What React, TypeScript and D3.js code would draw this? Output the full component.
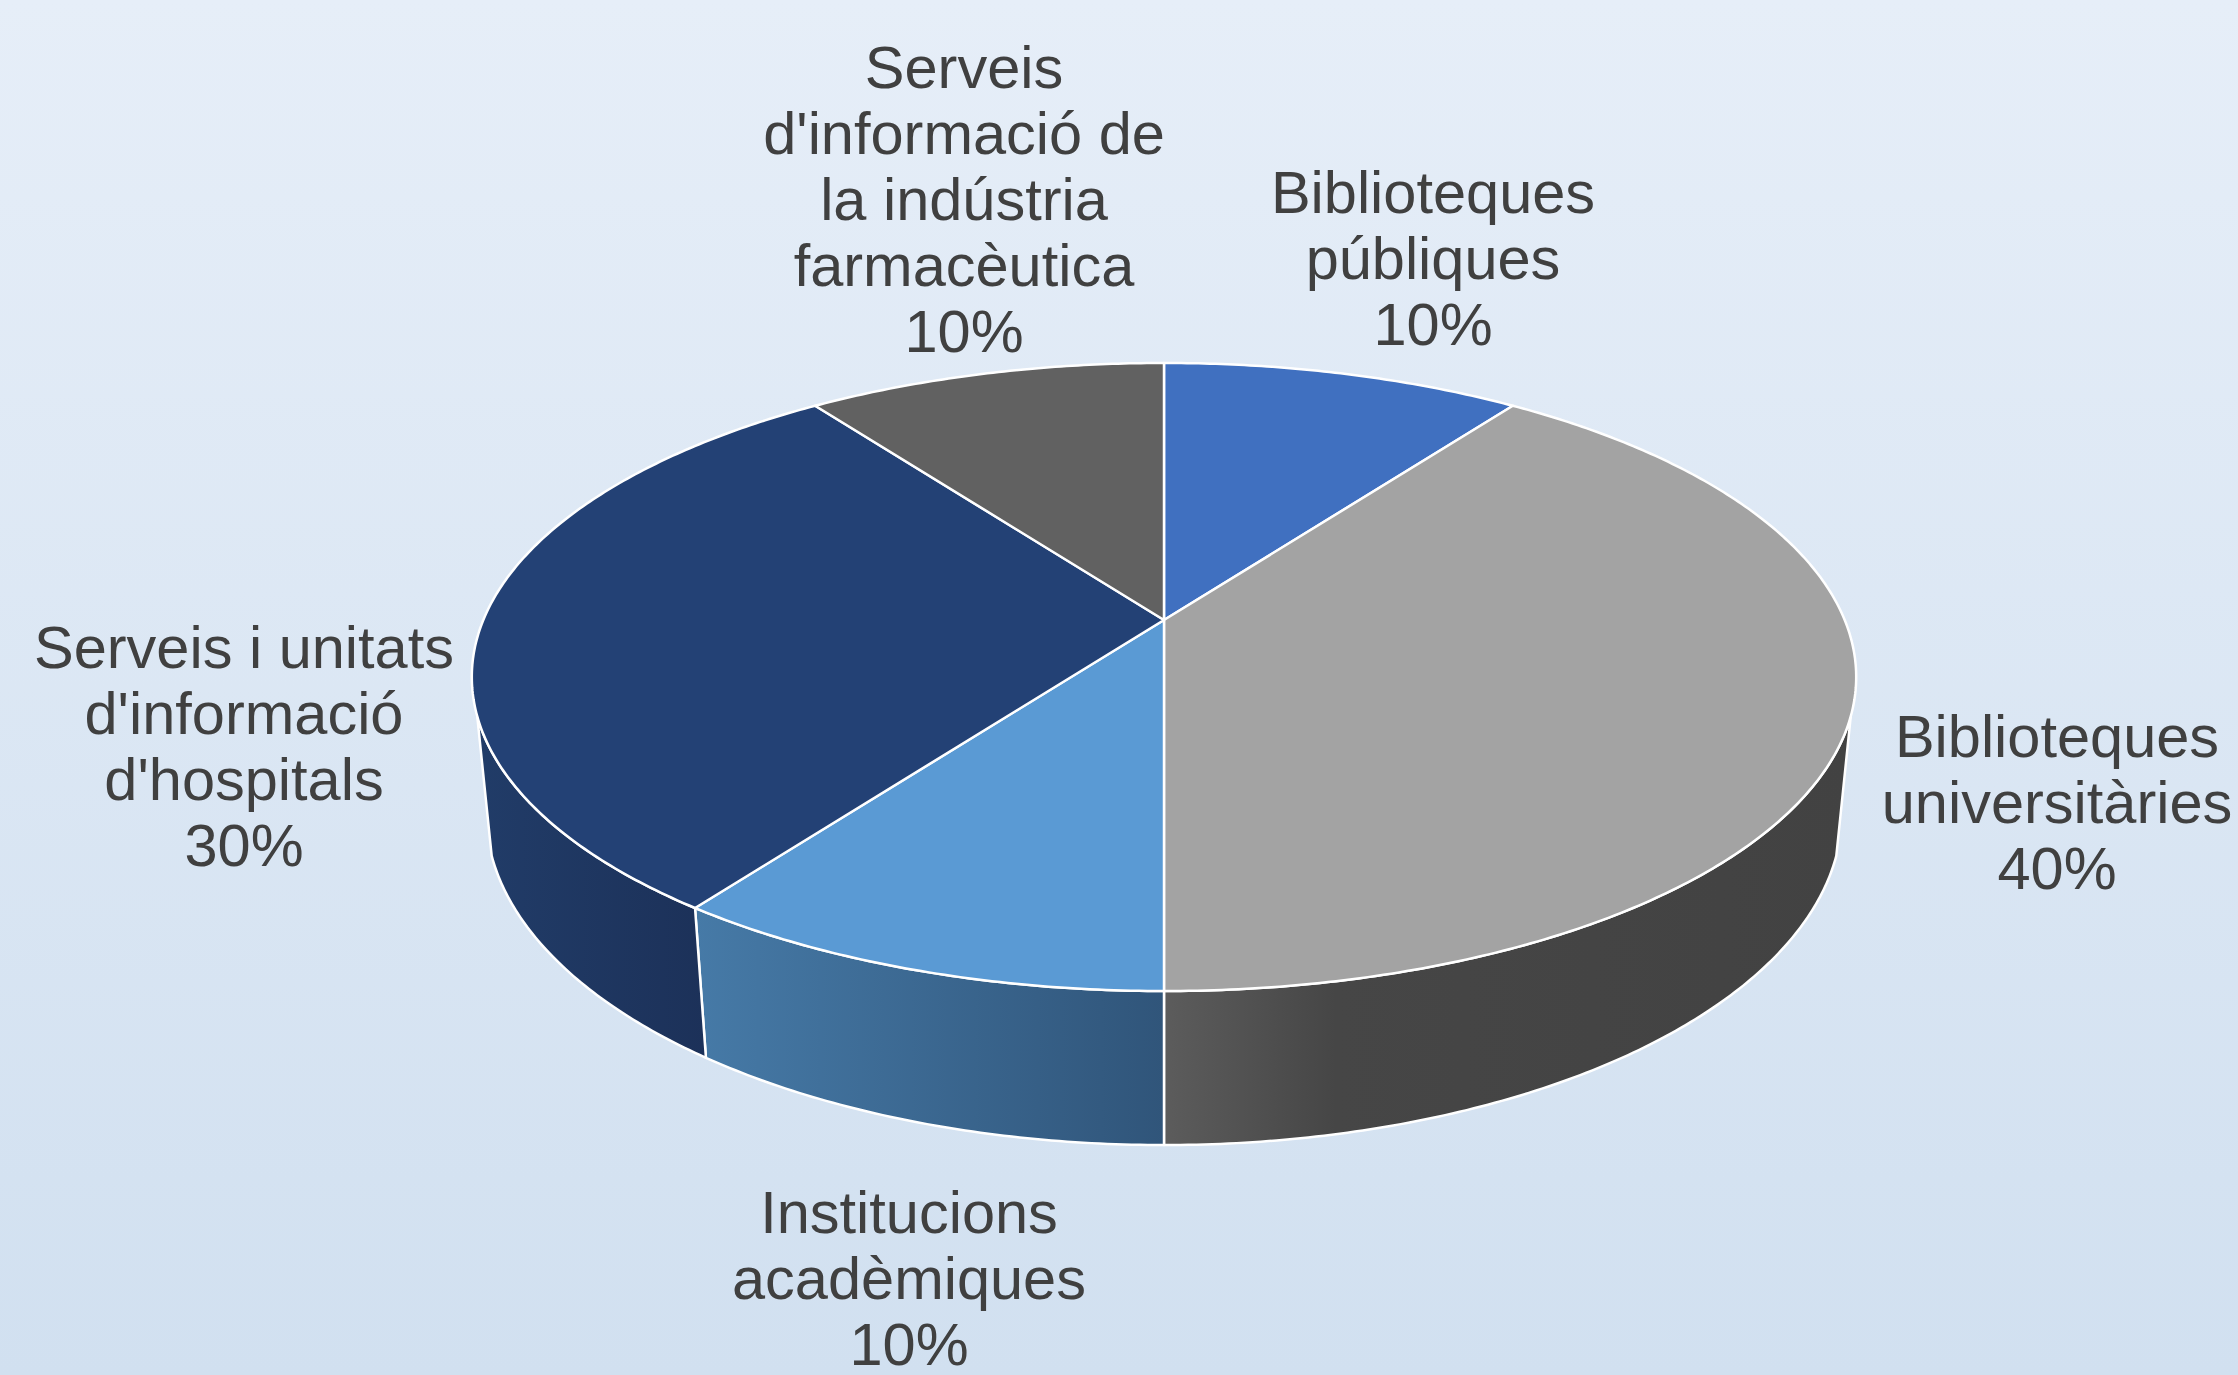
import * as React from 'react';
import * as d3 from 'd3';

// chart data
const categories: string[] = [
  'Biblioteques\npúbliques',
  'Biblioteques\nuniversitàries',
  'Institucions\nacadèmiques',
  "Serveis i unitats\nd'informació\nd'hospitals",
  "Serveis\nd'informació de\nla indústria\nfarmacèutica",
];
const values: number[] = [10, 40, 10, 30, 10];

// colours: top face, wall gradient (left -> right)
const topColors = ['#4070c0', '#a3a3a3', '#5a9ad4', '#234175', '#616161'];
const wallColors: string[][] = [
  ['#2f5597', '#2a4c87'],
  ['#5c5c5c', '#464646', '#424242'],
  ['#467aa7', '#30557a'],
  ['#213c68', '#1c3159'],
  ['#4a4a4a', '#3c3c3c'],
];

// where Excel put each data label (centre x, first baseline)
const labelPos: [number, number][] = [
  [1433, 213],
  [2057, 757],
  [909, 1233],
  [244, 668],
  [964, 88],
];

const W = 2238, H = 1375;
const CX = 1164, CY = 620;
const RX = 680.7, RY = 303.7;
const PERSP = 0.1815;
const THICK = 0.2244;
const WALL_V = 0.3;
const LINE_H = 66;

const sinA = RY / RX;
const cosA = Math.sqrt(1 - sinA * sinA);
const L = cosA / PERSP;
const F = RX * L;

function project(theta: number, h: number): [number, number] {
  const u = Math.sin(theta);
  const v = -Math.cos(theta);
  const depth = L * (1 - PERSP * v) + h * sinA;
  return [CX + (F * u) / depth, CY + (F * (v * sinA + h * cosA)) / depth];
}

function arcPts(s: number, e: number, h: number): [number, number][] {
  const n = Math.max(2, Math.ceil((e - s) / 0.01));
  return d3.range(n + 1).map((i) => project(s + ((e - s) * i) / n, h));
}

const line = d3.line<[number, number]>();
const pct = d3.format('.0%');

export default function App() {
  const total = d3.sum(values);
  const arcs = d3.pie<number>().sort(null).value((d) => d)(values);
  const w0 = Math.acos(-WALL_V);
  const w1 = 2 * Math.PI - w0;

  return (
    <div style={{ position: 'absolute', left: 0, top: 0 }}>
      <svg width={W} height={H} style={{ display: 'block' }}>
        <defs>
          <linearGradient id="bg" x1="0" y1="0" x2="0" y2="1">
            <stop offset="0" stopColor="#e6eef8" />
            <stop offset="1" stopColor="#d1e0f0" />
          </linearGradient>
        </defs>
        <rect width={W} height={H} fill="url(#bg)" />

        {arcs.map((a, i) => {
          const s = Math.max(a.startAngle, w0);
          const e = Math.min(a.endAngle, w1);
          if (s >= e) return null;
          const pts = arcPts(s, e, 0).concat(arcPts(s, e, THICK).reverse());
          const xs = pts.map((p) => p[0]);
          const id = `wall${i}`;
          const cols = wallColors[i];
          return (
            <g key={id}>
              <defs>
                <linearGradient id={id} gradientUnits="userSpaceOnUse"
                  x1={d3.min(xs)} x2={d3.max(xs)} y1={0} y2={0}>
                  {cols.map((c, j) => (
                    <stop key={j} offset={cols.length === 3 ? [0, 0.25, 1][j] : j / (cols.length - 1)} stopColor={c} />
                  ))}
                </linearGradient>
              </defs>
              <path d={line(pts) + 'Z'} fill={`url(#${id})`} stroke="#ffffff" strokeWidth={2.5} strokeLinejoin="round" />
            </g>
          );
        })}

        {arcs.map((a, i) => {
          const pts: [number, number][] = [[CX, CY], ...arcPts(a.startAngle, a.endAngle, 0)];
          return (
            <path key={i} d={line(pts) + 'Z'} fill={topColors[i]}
              stroke="#ffffff" strokeWidth={2.5} strokeLinejoin="round" />
          );
        })}

        <g fontFamily="'Liberation Sans', Arial, sans-serif" fontSize={59.5} fill="#404040" textAnchor="middle">
          {categories.map((c, i) => {
            const lines = c.split('\n').concat([pct(values[i] / total)]);
            const [x, y] = labelPos[i];
            return (
              <text key={i} x={x} y={y}>
                {lines.map((t, j) => (
                  <tspan key={j} x={x} y={y + j * LINE_H}>{t}</tspan>
                ))}
              </text>
            );
          })}
        </g>
      </svg>
    </div>
  );
}
